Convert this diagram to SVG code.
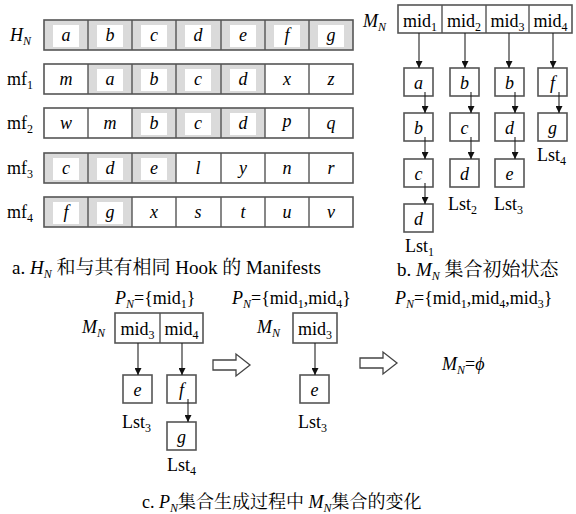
<svg xmlns="http://www.w3.org/2000/svg" width="576" height="514" viewBox="0 0 576 514" font-family="'Liberation Serif','Noto Serif CJK SC',serif" font-size="18">
<style>
.f{font-family:'Liberation Serif','Noto Serif CJK SC',serif}
.i{font-style:italic}
.c{text-anchor:middle}
.sub{font-size:12px}
.g{fill:#dadada}
.w{fill:#fff}
.row{fill:none;stroke:#555;stroke-width:1.6}
.dv{stroke:#555;stroke-width:1.4}
.bx{fill:#fff;stroke:#555;stroke-width:1.6}
.ln{stroke:#222;stroke-width:1.1;fill:none;marker-end:url(#ah)}
.ha{fill:#fff;stroke:#444;stroke-width:1.3}
</style>
<defs>
<marker id="ah" viewBox="0 0 10 10" refX="10" refY="5" markerWidth="8" markerHeight="7" orient="auto" markerUnits="userSpaceOnUse"><path d="M0,0 L10,5 L0,10 z" fill="#111"/></marker>
</defs>

<g id="row-HN">
<text style="font-family:'Liberation Serif','Noto Serif CJK SC',serif" x="10" y="41"><tspan class="i">H</tspan><tspan class="sub i" dy="4">N</tspan></text>
<rect class="g" x="44" y="20" width="309" height="30"/>
<rect class="w" x="53" y="25" width="26" height="22"/><rect class="w" x="97" y="25" width="26" height="22"/><rect class="w" x="141" y="25" width="26" height="22"/><rect class="w" x="185" y="25" width="26" height="22"/><rect class="w" x="230" y="25" width="26" height="22"/><rect class="w" x="274" y="25" width="26" height="22"/><rect class="w" x="318" y="25" width="26" height="22"/>
<rect class="row" x="44" y="20" width="309" height="30"/>
<path class="dv" d="M88,20V50M132,20V50M176,20V50M221,20V50M265,20V50M309,20V50"/>
<text style="font-family:'Liberation Serif',serif" class="i c" x="66" y="41">a</text><text style="font-family:'Liberation Serif',serif" class="i c" x="110" y="41">b</text><text style="font-family:'Liberation Serif',serif" class="i c" x="154" y="41">c</text><text style="font-family:'Liberation Serif',serif" class="i c" x="198" y="41">d</text><text style="font-family:'Liberation Serif',serif" class="i c" x="243" y="41">e</text><text style="font-family:'Liberation Serif',serif" class="i c" x="287" y="41">f</text><text style="font-family:'Liberation Serif',serif" class="i c" x="331" y="41">g</text>
</g>

<g id="row-mf1">
<text style="font-family:'Liberation Serif',serif" x="7" y="85">mf<tspan class="sub" dy="4">1</tspan></text>
<rect class="g" x="88" y="64" width="177" height="30"/>
<rect class="w" x="97" y="69" width="26" height="22"/><rect class="w" x="141" y="69" width="26" height="22"/><rect class="w" x="185" y="69" width="26" height="22"/><rect class="w" x="230" y="69" width="26" height="22"/>
<rect class="row" x="44" y="64" width="309" height="30"/>
<path class="dv" d="M88,64V94M132,64V94M176,64V94M221,64V94M265,64V94M309,64V94"/>
<text style="font-family:'Liberation Serif',serif" class="i c" x="66" y="85">m</text><text style="font-family:'Liberation Serif',serif" class="i c" x="110" y="85">a</text><text style="font-family:'Liberation Serif',serif" class="i c" x="154" y="85">b</text><text style="font-family:'Liberation Serif',serif" class="i c" x="198" y="85">c</text><text style="font-family:'Liberation Serif',serif" class="i c" x="243" y="85">d</text><text style="font-family:'Liberation Serif',serif" class="i c" x="287" y="85">x</text><text style="font-family:'Liberation Serif',serif" class="i c" x="331" y="85">z</text>
</g>

<g id="row-mf2">
<text style="font-family:'Liberation Serif',serif" x="7" y="129">mf<tspan class="sub" dy="4">2</tspan></text>
<rect class="g" x="132" y="108" width="133" height="30"/>
<rect class="w" x="141" y="113" width="26" height="22"/><rect class="w" x="185" y="113" width="26" height="22"/><rect class="w" x="230" y="113" width="26" height="22"/>
<rect class="row" x="44" y="108" width="309" height="30"/>
<path class="dv" d="M88,108V138M132,108V138M176,108V138M221,108V138M265,108V138M309,108V138"/>
<text style="font-family:'Liberation Serif',serif" class="i c" x="66" y="129">w</text><text style="font-family:'Liberation Serif',serif" class="i c" x="110" y="129">m</text><text style="font-family:'Liberation Serif',serif" class="i c" x="154" y="129">b</text><text style="font-family:'Liberation Serif',serif" class="i c" x="198" y="129">c</text><text style="font-family:'Liberation Serif',serif" class="i c" x="243" y="129">d</text><text style="font-family:'Liberation Serif',serif" class="i c" x="287" y="127">p</text><text style="font-family:'Liberation Serif',serif" class="i c" x="331" y="129">q</text>
</g>

<g id="row-mf3">
<text style="font-family:'Liberation Serif',serif" x="7" y="174">mf<tspan class="sub" dy="4">3</tspan></text>
<rect class="g" x="44" y="153" width="132" height="30"/>
<rect class="w" x="53" y="158" width="26" height="22"/><rect class="w" x="97" y="158" width="26" height="22"/><rect class="w" x="141" y="158" width="26" height="22"/>
<rect class="row" x="44" y="153" width="309" height="30"/>
<path class="dv" d="M88,153V183M132,153V183M176,153V183M221,153V183M265,153V183M309,153V183"/>
<text style="font-family:'Liberation Serif',serif" class="i c" x="66" y="174">c</text><text style="font-family:'Liberation Serif',serif" class="i c" x="110" y="174">d</text><text style="font-family:'Liberation Serif',serif" class="i c" x="154" y="174">e</text><text style="font-family:'Liberation Serif',serif" class="i c" x="198" y="174">l</text><text style="font-family:'Liberation Serif',serif" class="i c" x="243" y="174">y</text><text style="font-family:'Liberation Serif',serif" class="i c" x="287" y="174">n</text><text style="font-family:'Liberation Serif',serif" class="i c" x="331" y="174">r</text>
</g>

<g id="row-mf4">
<text style="font-family:'Liberation Serif',serif" x="7" y="218">mf<tspan class="sub" dy="4">4</tspan></text>
<rect class="g" x="44" y="197" width="88" height="30"/>
<rect class="w" x="53" y="202" width="26" height="22"/><rect class="w" x="97" y="202" width="26" height="22"/>
<rect class="row" x="44" y="197" width="309" height="30"/>
<path class="dv" d="M88,197V227M132,197V227M176,197V227M221,197V227M265,197V227M309,197V227"/>
<text style="font-family:'Liberation Serif',serif" class="i c" x="66" y="218">f</text><text style="font-family:'Liberation Serif',serif" class="i c" x="110" y="218">g</text><text style="font-family:'Liberation Serif',serif" class="i c" x="154" y="218">x</text><text style="font-family:'Liberation Serif',serif" class="i c" x="198" y="218">s</text><text style="font-family:'Liberation Serif',serif" class="i c" x="243" y="218">t</text><text style="font-family:'Liberation Serif',serif" class="i c" x="287" y="218">u</text><text style="font-family:'Liberation Serif',serif" class="i c" x="331" y="218">v</text>
</g>

<g id="caption-a">
<text style="font-family:'Liberation Serif','Noto Serif CJK SC',serif;font-size:19px" x="12" y="274">a. <tspan class="i">H</tspan><tspan class="sub i" dy="4">N</tspan><tspan dy="-4"> 和与其有相同 Hook 的 Manifests</tspan></text>
</g>

<g id="b-MN">
<text style="font-family:'Liberation Serif',serif" x="363" y="27"><tspan class="i">M</tspan><tspan class="sub i" dy="4">N</tspan></text>
<rect class="bx" x="398" y="5" width="174" height="28"/>
<path class="dv" d="M442,5V33M486,5V33M529,5V33"/>
<text style="font-family:'Liberation Serif',serif" class="c" x="420" y="27">mid<tspan class="sub" dy="4">1</tspan></text>
<text style="font-family:'Liberation Serif',serif" class="c" x="464" y="27">mid<tspan class="sub" dy="4">2</tspan></text>
<text style="font-family:'Liberation Serif',serif" class="c" x="507.5" y="27">mid<tspan class="sub" dy="4">3</tspan></text>
<text style="font-family:'Liberation Serif',serif" class="c" x="550.5" y="27">mid<tspan class="sub" dy="4">4</tspan></text>
</g>

<g id="b-lst1">
<rect class="bx" x="404" y="68" width="29" height="28"/><text style="font-family:'Liberation Serif',serif" class="i c" x="418.5" y="89">a</text>
<rect class="bx" x="404" y="113" width="29" height="28"/><text style="font-family:'Liberation Serif',serif" class="i c" x="418.5" y="134">b</text>
<rect class="bx" x="404" y="159" width="29" height="28"/><text style="font-family:'Liberation Serif',serif" class="i c" x="418.5" y="180">c</text>
<rect class="bx" x="404" y="204" width="29" height="28"/><text style="font-family:'Liberation Serif',serif" class="i c" x="418.5" y="225">d</text>
<text style="font-family:'Liberation Serif',serif" x="405" y="252">Lst<tspan class="sub" dy="4">1</tspan></text>
</g>
<g id="b-lst2">
<rect class="bx" x="450" y="68" width="29" height="28"/><text style="font-family:'Liberation Serif',serif" class="i c" x="464.5" y="89">b</text>
<rect class="bx" x="450" y="113" width="29" height="28"/><text style="font-family:'Liberation Serif',serif" class="i c" x="464.5" y="134">c</text>
<rect class="bx" x="450" y="159" width="29" height="28"/><text style="font-family:'Liberation Serif',serif" class="i c" x="464.5" y="180">d</text>
<text style="font-family:'Liberation Serif',serif" x="448" y="210">Lst<tspan class="sub" dy="4">2</tspan></text>
</g>
<g id="b-lst3">
<rect class="bx" x="495" y="68" width="29" height="28"/><text style="font-family:'Liberation Serif',serif" class="i c" x="509.5" y="89">b</text>
<rect class="bx" x="495" y="113" width="29" height="28"/><text style="font-family:'Liberation Serif',serif" class="i c" x="509.5" y="134">d</text>
<rect class="bx" x="495" y="159" width="29" height="28"/><text style="font-family:'Liberation Serif',serif" class="i c" x="509.5" y="180">e</text>
<text style="font-family:'Liberation Serif',serif" x="494" y="210">Lst<tspan class="sub" dy="4">3</tspan></text>
</g>
<g id="b-lst4">
<rect class="bx" x="538" y="68" width="29" height="28"/><text style="font-family:'Liberation Serif',serif" class="i c" x="552.5" y="89">f</text>
<rect class="bx" x="538" y="113" width="29" height="28"/><text style="font-family:'Liberation Serif',serif" class="i c" x="552.5" y="134">g</text>
<text style="font-family:'Liberation Serif',serif" x="537" y="161">Lst<tspan class="sub" dy="4">4</tspan></text>
</g>

<g id="caption-b">
<text style="font-family:'Liberation Serif','Noto Serif CJK SC',serif;font-size:19px" x="397" y="276">b. <tspan class="i">M</tspan><tspan class="sub i" dy="4">N</tspan><tspan dy="-4"> 集合初始状态</tspan></text>
</g>

<g id="c1">
<text style="font-family:'Liberation Serif',serif" x="115" y="304"><tspan class="i">P</tspan><tspan class="sub i" dy="4">N</tspan><tspan dy="-4">={mid</tspan><tspan class="sub" dy="4">1</tspan><tspan dy="-4">}</tspan></text>
<text style="font-family:'Liberation Serif',serif" x="82" y="333"><tspan class="i">M</tspan><tspan class="sub i" dy="4">N</tspan></text>
<rect class="bx" x="115" y="313" width="88" height="30"/>
<path class="dv" d="M160,313V343"/>
<text style="font-family:'Liberation Serif',serif" class="c" x="137.5" y="335">mid<tspan class="sub" dy="4">3</tspan></text>
<text style="font-family:'Liberation Serif',serif" class="c" x="181.5" y="335">mid<tspan class="sub" dy="4">4</tspan></text>
<rect class="bx" x="123" y="375" width="29" height="28"/><text style="font-family:'Liberation Serif',serif" class="i c" x="137.5" y="396">e</text>
<rect class="bx" x="167" y="375" width="29" height="28"/><text style="font-family:'Liberation Serif',serif" class="i c" x="181.5" y="396">f</text>
<rect class="bx" x="167" y="422" width="29" height="28"/><text style="font-family:'Liberation Serif',serif" class="i c" x="181.5" y="443">g</text>
<text style="font-family:'Liberation Serif',serif" x="122" y="428">Lst<tspan class="sub" dy="4">3</tspan></text>
<text style="font-family:'Liberation Serif',serif" x="167" y="471">Lst<tspan class="sub" dy="4">4</tspan></text>
</g>
<g id="arrow1"><path class="ha" d="M213,360H236V354L250,365L236,376V370H213Z"/></g>
<g id="c2">
<text style="font-family:'Liberation Serif',serif" x="232" y="304"><tspan class="i">P</tspan><tspan class="sub i" dy="4">N</tspan><tspan dy="-4">={mid</tspan><tspan class="sub" dy="4">1</tspan><tspan dy="-4">,mid</tspan><tspan class="sub" dy="4">4</tspan><tspan dy="-4">}</tspan></text>
<text style="font-family:'Liberation Serif',serif" x="257" y="333"><tspan class="i">M</tspan><tspan class="sub i" dy="4">N</tspan></text>
<rect class="bx" x="293" y="313" width="44" height="30"/>
<text style="font-family:'Liberation Serif',serif" class="c" x="315" y="335">mid<tspan class="sub" dy="4">3</tspan></text>
<rect class="bx" x="300" y="375" width="29" height="28"/><text style="font-family:'Liberation Serif',serif" class="i c" x="314.5" y="396">e</text>
<text style="font-family:'Liberation Serif',serif" x="298" y="428">Lst<tspan class="sub" dy="4">3</tspan></text>
</g>
<g id="arrow2"><path class="ha" d="M360,358H383V352L397,363L383,374V368H360Z"/></g>
<g id="c3">
<text style="font-family:'Liberation Serif',serif" x="395" y="304"><tspan class="i">P</tspan><tspan class="sub i" dy="4">N</tspan><tspan dy="-4">={mid</tspan><tspan class="sub" dy="4">1</tspan><tspan dy="-4">,mid</tspan><tspan class="sub" dy="4">4</tspan><tspan dy="-4">,mid</tspan><tspan class="sub" dy="4">3</tspan><tspan dy="-4">}</tspan></text>
<text style="font-family:'Liberation Serif',serif" x="442" y="370"><tspan class="i">M</tspan><tspan class="sub i" dy="4">N</tspan><tspan dy="-4">=</tspan><tspan class="i">ϕ</tspan></text>
</g>

<g id="caption-c">
<text style="font-family:'Liberation Serif','Noto Serif CJK SC',serif" x="142" y="508">c. <tspan class="i">P</tspan><tspan class="sub i" dy="4">N</tspan><tspan dy="-4">集合生成过程中 </tspan><tspan class="i">M</tspan><tspan class="sub i" dy="4">N</tspan><tspan dy="-4">集合的变化</tspan></text>
</g>

<g id="connectors">
<path class="ln" d="M419,33V68"/>
<path class="ln" d="M465,33V68"/>
<path class="ln" d="M509,33V68"/>
<path class="ln" d="M553,33V68"/>
<path class="ln" d="M425,92V113"/>
<path class="ln" d="M425,137V159"/>
<path class="ln" d="M425,183V204"/>
<path class="ln" d="M471,92V113"/>
<path class="ln" d="M471,137V159"/>
<path class="ln" d="M515,92V113"/>
<path class="ln" d="M515,137V159"/>
<path class="ln" d="M559,92V113"/>
<path class="ln" d="M138,343V375"/>
<path class="ln" d="M182,343V375"/>
<path class="ln" d="M188,399V422"/>
<path class="ln" d="M315,343V375"/>
</g>
</svg>
